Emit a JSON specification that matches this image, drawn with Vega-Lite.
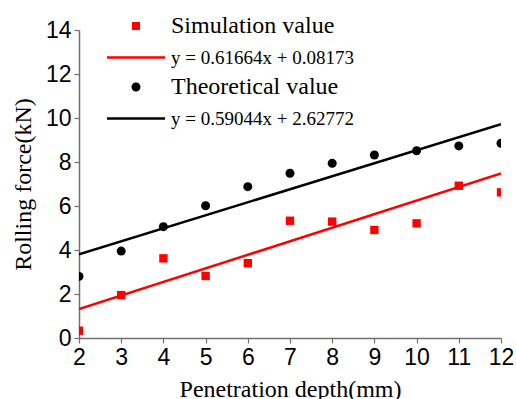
{
  "$schema": "https://vega.github.io/schema/vega-lite/v6.json",
  "width": 422,
  "height": 308,
  "autosize": {"type": "none"},
  "padding": {"left": 79, "top": 30, "right": 15, "bottom": 61},
  "background": "white",
  "config": {
    "view": {"stroke": null},
    "axis": {
      "grid": false,
      "domainColor": "#707070",
      "domainWidth": 1.5,
      "tickColor": "#707070",
      "tickWidth": 1.2,
      "tickSize": 5,
      "labelFont": "Liberation Sans",
      "labelFontSize": 23,
      "labelColor": "black",
      "titleFont": "Liberation Serif",
      "titleFontSize": 24,
      "titleFontWeight": "normal",
      "titleColor": "black"
    },
    "legend": {"labelFont": "Liberation Serif", "labelFontSize": 24, "labelColor": "black"}
  },
  "datasets": {
    "pts": [
      {"x": 2, "value": 0.33, "series": "Simulation value"},
      {"x": 3, "value": 1.95, "series": "Simulation value"},
      {"x": 4, "value": 3.62, "series": "Simulation value"},
      {"x": 5, "value": 2.82, "series": "Simulation value"},
      {"x": 6, "value": 3.4, "series": "Simulation value"},
      {"x": 7, "value": 5.33, "series": "Simulation value"},
      {"x": 8, "value": 5.29, "series": "Simulation value"},
      {"x": 9, "value": 4.91, "series": "Simulation value"},
      {"x": 10, "value": 5.21, "series": "Simulation value"},
      {"x": 11, "value": 6.92, "series": "Simulation value"},
      {"x": 12, "value": 6.62, "series": "Simulation value"},
      {"x": 2, "value": 2.8, "series": "Theoretical value"},
      {"x": 3, "value": 3.95, "series": "Theoretical value"},
      {"x": 4, "value": 5.06, "series": "Theoretical value"},
      {"x": 5, "value": 6.01, "series": "Theoretical value"},
      {"x": 6, "value": 6.88, "series": "Theoretical value"},
      {"x": 7, "value": 7.49, "series": "Theoretical value"},
      {"x": 8, "value": 7.94, "series": "Theoretical value"},
      {"x": 9, "value": 8.32, "series": "Theoretical value"},
      {"x": 10, "value": 8.51, "series": "Theoretical value"},
      {"x": 11, "value": 8.73, "series": "Theoretical value"},
      {"x": 12, "value": 8.85, "series": "Theoretical value"}
    ],
    "fits": [
      {"x": 2, "value": 1.315, "series": "y = 0.61664x + 0.08173"},
      {"x": 12, "value": 7.481, "series": "y = 0.61664x + 0.08173"},
      {"x": 2, "value": 3.808, "series": "y = 0.59044x + 2.62772"},
      {"x": 12, "value": 9.713, "series": "y = 0.59044x + 2.62772"}
    ]
  },
  "encoding": {
    "x": {
      "field": "x", "type": "quantitative",
      "scale": {"domain": [2, 12], "nice": false, "zero": false},
      "axis": {
        "values": [2,3,4,5,6,7,8,9,10,11,12], "title": "Penetration depth(mm)",
        "labelPadding": 3, "titlePadding": 8, "labelFlush": false,
        "encode": {"ticks": {"update": {"y2": {"value": -5}}}}
      }
    },
    "y": {
      "field": "value", "type": "quantitative",
      "scale": {"domain": [0, 14], "nice": false},
      "axis": {
        "values": [0,2,4,6,8,10,12,14], "title": "Rolling force(kN)",
        "labelPadding": 3, "titlePadding": 10, "labelFlush": false,
        "encode": {"ticks": {"update": {"x2": {"value": 5}}}}
      }
    },
    "color": {
      "field": "series", "type": "nominal",
      "scale": {
        "domain": ["Simulation value", "y = 0.61664x + 0.08173", "Theoretical value", "y = 0.59044x + 2.62772"],
        "range": ["#ff0000", "#ff0000", "#000000", "#000000"]
      },
      "legend": {
        "orient": "none",
        "legendX": 45,
        "legendY": -16,
        "title": null,
        "padding": 0,
        "rowPadding": 7.5,
        "symbolSize": 81,
        "labelOffset": 23,
        "labelFont": "Liberation Serif",
        "labelFontSize": 24,
        "labelColor": "black",
        "labelLimit": 400,
        "encode": {
          "symbols": {
            "update": {
              "shape": {"signal": "datum.index == 0 ? 'M-6.45,0L-6.45,0M6.45,0L6.45,0M-0.9,-0.9L0.9,-0.9L0.9,0.9L-0.9,0.9Z' : datum.index == 2 ? 'M-6.45,0L-6.45,0M6.45,0L6.45,0M-1,0A1,1 0 1,0 1,0A1,1 0 1,0 -1,0Z' : 'M-6.45,0L6.45,0'"},
              "size": {"value": 81},
              "strokeWidth": {"signal": "datum.index % 2 == 0 ? 0 : 2.5"}
            }
          },
          "labels": {
            "update": {
              "fontSize": {"signal": "datum.index % 2 == 1 ? 19 : 24"}
            }
          }
        }
      }
    }
  },
  "layer": [
    {
      "data": {"name": "fits"},
      "mark": {"type": "line", "strokeWidth": 2.5, "clip": true}
    },
    {
      "data": {"name": "pts"},
      "transform": [{"filter": "datum.series == 'Simulation value'"}],
      "mark": {"type": "square", "size": 70, "opacity": 1, "clip": true}
    },
    {
      "data": {"name": "pts"},
      "transform": [{"filter": "datum.series == 'Theoretical value'"}],
      "mark": {"type": "circle", "size": 81, "opacity": 1, "clip": true}
    }
  ]
}
